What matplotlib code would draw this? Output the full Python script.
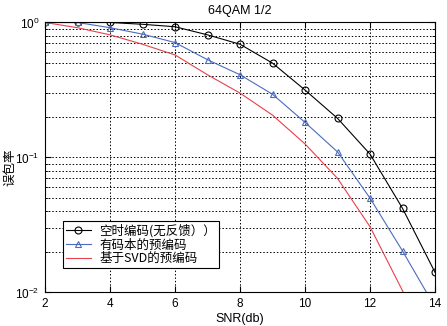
import matplotlib
matplotlib.use("Agg")
import matplotlib.pyplot as plt
from matplotlib.ticker import LogLocator, NullFormatter, FixedLocator

plt.rcParams['font.family'] = ['Liberation Sans', 'Noto Sans CJK SC', 'DejaVu Sans']

snr = [2, 3, 4, 5, 6, 7, 8, 9, 10, 11, 12, 13, 14]
stbc = [1.0, 1.0, 1.0, 0.97, 0.93, 0.81, 0.69, 0.50, 0.316, 0.195, 0.106, 0.042, 0.0141]
codebook = [1.0, 1.0, 0.915, 0.82, 0.71, 0.53, 0.41, 0.294, 0.182, 0.110, 0.050, 0.0203, 0.0078]
svd = [1.0, 0.915, 0.81, 0.69, 0.575, 0.41, 0.30, 0.206, 0.126, 0.070, 0.0307, 0.0103, 0.0032]
labels = ['空时编码(无反馈））', '有码本的预编码', '基于SVD的预编码']
title = '64QAM 1/2'
xlabel = 'SNR(db)'
ylabel = '误包率'
xticks = [2, 4, 6, 8, 10, 12, 14]

fig = plt.figure(figsize=(4.47, 3.26), dpi=100)
ax = fig.add_axes([0.1007, 0.1028, 0.8725, 0.8282])

ax.semilogy(snr, stbc, color='black', lw=0.8, marker='o', ms=5, mfc='none', mec='black', mew=0.8, label=labels[0])
ax.semilogy(snr, codebook, color='#4a6cc0', lw=0.8, marker='^', ms=5, mfc='none', mec='#4a6cc0', mew=0.8, label=labels[1])
ax.semilogy(snr, svd, color='#e8404c', lw=0.8, label=labels[2])

ax.set_xlim(2, 14)
ax.set_ylim(1e-2, 1)
ax.xaxis.set_major_locator(FixedLocator(xticks))
ax.yaxis.set_major_locator(LogLocator(base=10, numticks=10))
ax.yaxis.set_minor_locator(LogLocator(base=10, subs=range(2, 10), numticks=20))
ax.yaxis.set_minor_formatter(NullFormatter())

ax.grid(True, which='major', axis='both', color='black', linestyle=(0, (1.5, 2)), lw=0.7)
ax.grid(True, which='minor', axis='y', color='black', linestyle=(0, (1.5, 2)), lw=0.7)

ax.tick_params(which='both', direction='in', top=True, right=True, labelsize=8.5)
ax.tick_params(which='major', length=4, pad=4)
ax.tick_params(which='minor', length=2)
for s in ax.spines.values():
    s.set_linewidth(0.8)

ax.set_title(title, fontsize=9, pad=6)
ax.set_xlabel(xlabel, fontsize=9, labelpad=2)
ax.set_ylabel(ylabel, fontsize=9, family=['Noto Sans CJK SC', 'DejaVu Sans'])
ax.yaxis.set_label_coords(-0.074, 0.465)

leg = ax.legend(loc='lower left', bbox_to_anchor=(0.045, 0.09),
                prop={'family': ['Noto Sans CJK SC', 'DejaVu Sans'], 'size': 9},
                frameon=True, fancybox=False, edgecolor='black', framealpha=1,
                handlelength=2.0, borderpad=0.25, labelspacing=0.05, handletextpad=0.7,
                borderaxespad=0)
leg.get_frame().set_linewidth(0.8)

fig.savefig('out.png', dpi=100)
